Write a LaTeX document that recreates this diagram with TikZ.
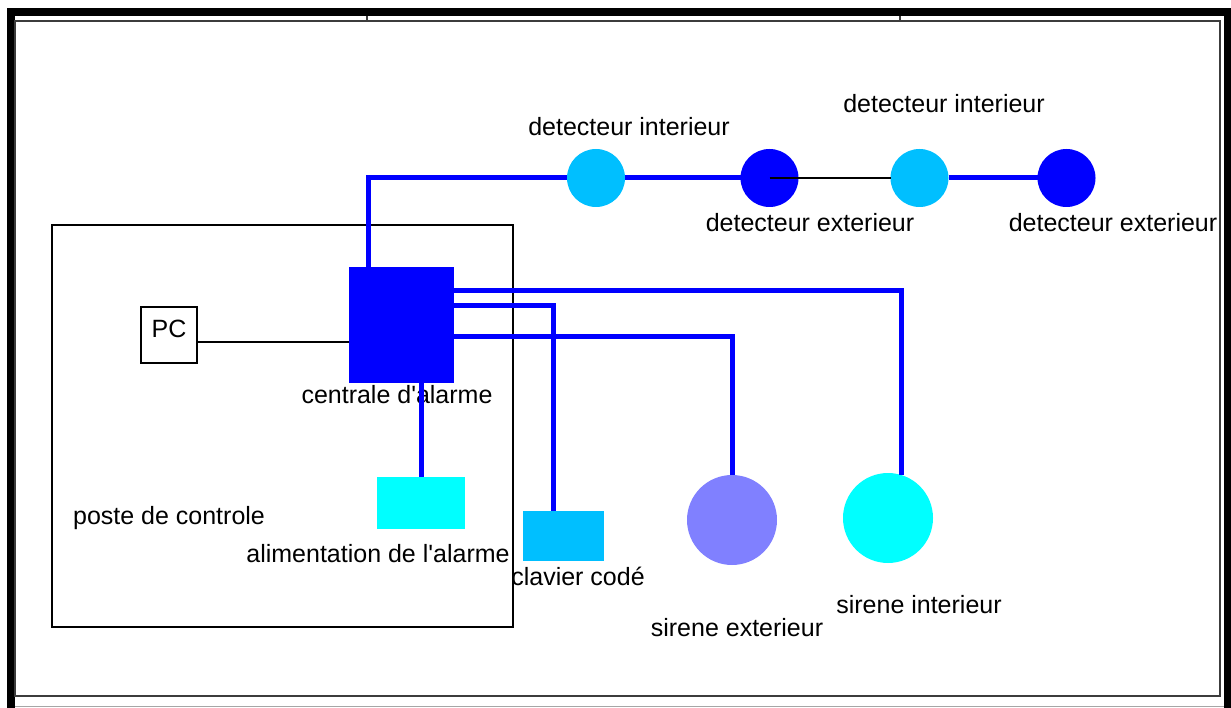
\documentclass[tikz,border=0pt]{standalone}
\usepackage{fontspec}
\setmainfont{Liberation Sans}
\usepackage{tikz}
\usetikzlibrary{positioning}
\definecolor{AlarmBlue}{HTML}{0000FF}
\definecolor{SkyCyan}{HTML}{00BFFF}
\definecolor{PureCyan}{HTML}{00FFFF}
\definecolor{Lavender}{HTML}{8080FF}
\definecolor{FrameGray}{HTML}{3C3C3C}

\begin{document}
\begin{tikzpicture}[
    x=1pt, y=-1pt,
    font=\fontsize{25}{30}\selectfont,
    block/.style={rectangle, inner sep=0pt, outer sep=0pt},
    sensor/.style={circle, inner sep=0pt, outer sep=0pt, minimum size=58pt},
    siren/.style={circle, inner sep=0pt, outer sep=0pt, minimum size=90pt},
    txt/.style={inner sep=0pt, text=black},
    bus/.style={draw=AlarmBlue, line width=5pt},
    wire/.style={draw=black, line width=1.8pt}
]
\useasboundingbox (0,0) rectangle (1231,708);
% page frame
\fill[black] (7,8) rectangle (1231,16);
\fill[black] (7,8) rectangle (15,708);
\fill[black] (1224,8) rectangle (1231,708);
\draw[FrameGray, line width=1.6pt] (15,21) rectangle (1220,696);
\draw[FrameGray, line width=1.2pt] (367,16) -- (367,21) (900,16) -- (900,21);
\draw[black!35, line width=1pt] (15,706) -- (1224,706);

% control room
\node[block, draw=black, line width=1.6pt, minimum width=461pt, minimum height=402pt] (poste) at (282.5,426) {};
\node[block, draw=black, line width=1.6pt, minimum size=56pt, text depth=12pt] (pc) at (169,335) {PC};
\node[block, fill=AlarmBlue, minimum width=105pt, minimum height=116pt] (central) at (401.5,325) {};
\node[block, fill=PureCyan, minimum width=88pt, minimum height=52pt] (alim) at (421,503) {};
\node[block, fill=SkyCyan, minimum width=81pt, minimum height=50pt] (clavier) at (563.5,536) {};

% detectors and sirens
\node[sensor, fill=SkyCyan] (din1) at (596,178) {};
\node[sensor, fill=AlarmBlue] (dex1) at (769.5,178) {};
\node[sensor, fill=SkyCyan] (din2) at (919.5,178) {};
\node[sensor, fill=AlarmBlue] (dex2) at (1066.5,178) {};
\node[siren, fill=Lavender] (sirext) at (732,520) {};
\node[siren, fill=PureCyan] (sirint) at (888,518) {};

% labels
\node[txt] (posteLbl) at (169,518) {poste de controle};
\node[txt, below=2pt of central, xshift=-4.5pt] (centralLbl) {centrale d\textquotesingle alarme};
\node[txt, below=15pt of alim, xshift=-43pt] (alimLbl) {alimentation de l\textquotesingle alarme};
\node[txt, below=6pt of clavier, xshift=14.5pt] (clavierLbl) {clavier codé};
\node[txt, above=13pt of din1, xshift=33pt] (din1Lbl) {detecteur interieur};
\node[txt, above=36pt of din2, xshift=24.5pt] (din2Lbl) {detecteur interieur};
\node[txt, below=6pt of dex1, xshift=40.5pt] (dex1Lbl) {detecteur exterieur};
\node[txt, below=6pt of dex2, xshift=46.5pt] (dex2Lbl) {detecteur exterieur};
\node[txt, below=53pt of sirext, xshift=5pt] (sirextLbl) {sirene exterieur};
\node[txt, below=32pt of sirint, xshift=31pt] (sirintLbl) {sirene interieur};

% wiring
\draw[wire] ([yshift=-7pt]pc.east) -- ([yshift=-7pt]pc.east -| central.west);
\draw[bus] ([xshift=19pt]central.north west) |- (din1);
\draw[bus] (din1) -- (dex1);
\draw[wire] (dex1.center) -- (din2);
\draw[bus] (din2) -- (dex2);
\draw[bus] ([yshift=-24pt]central.north east) -| (sirint.72);
\draw[bus] ([yshift=-39pt]central.north east) -| ([xshift=-10pt]clavier.north);
\draw[bus] ([yshift=-70pt]central.north east) -| (sirext);
\draw[bus] (alim.north |- central.south) -- (alim.north);
\end{tikzpicture}
\end{document}
